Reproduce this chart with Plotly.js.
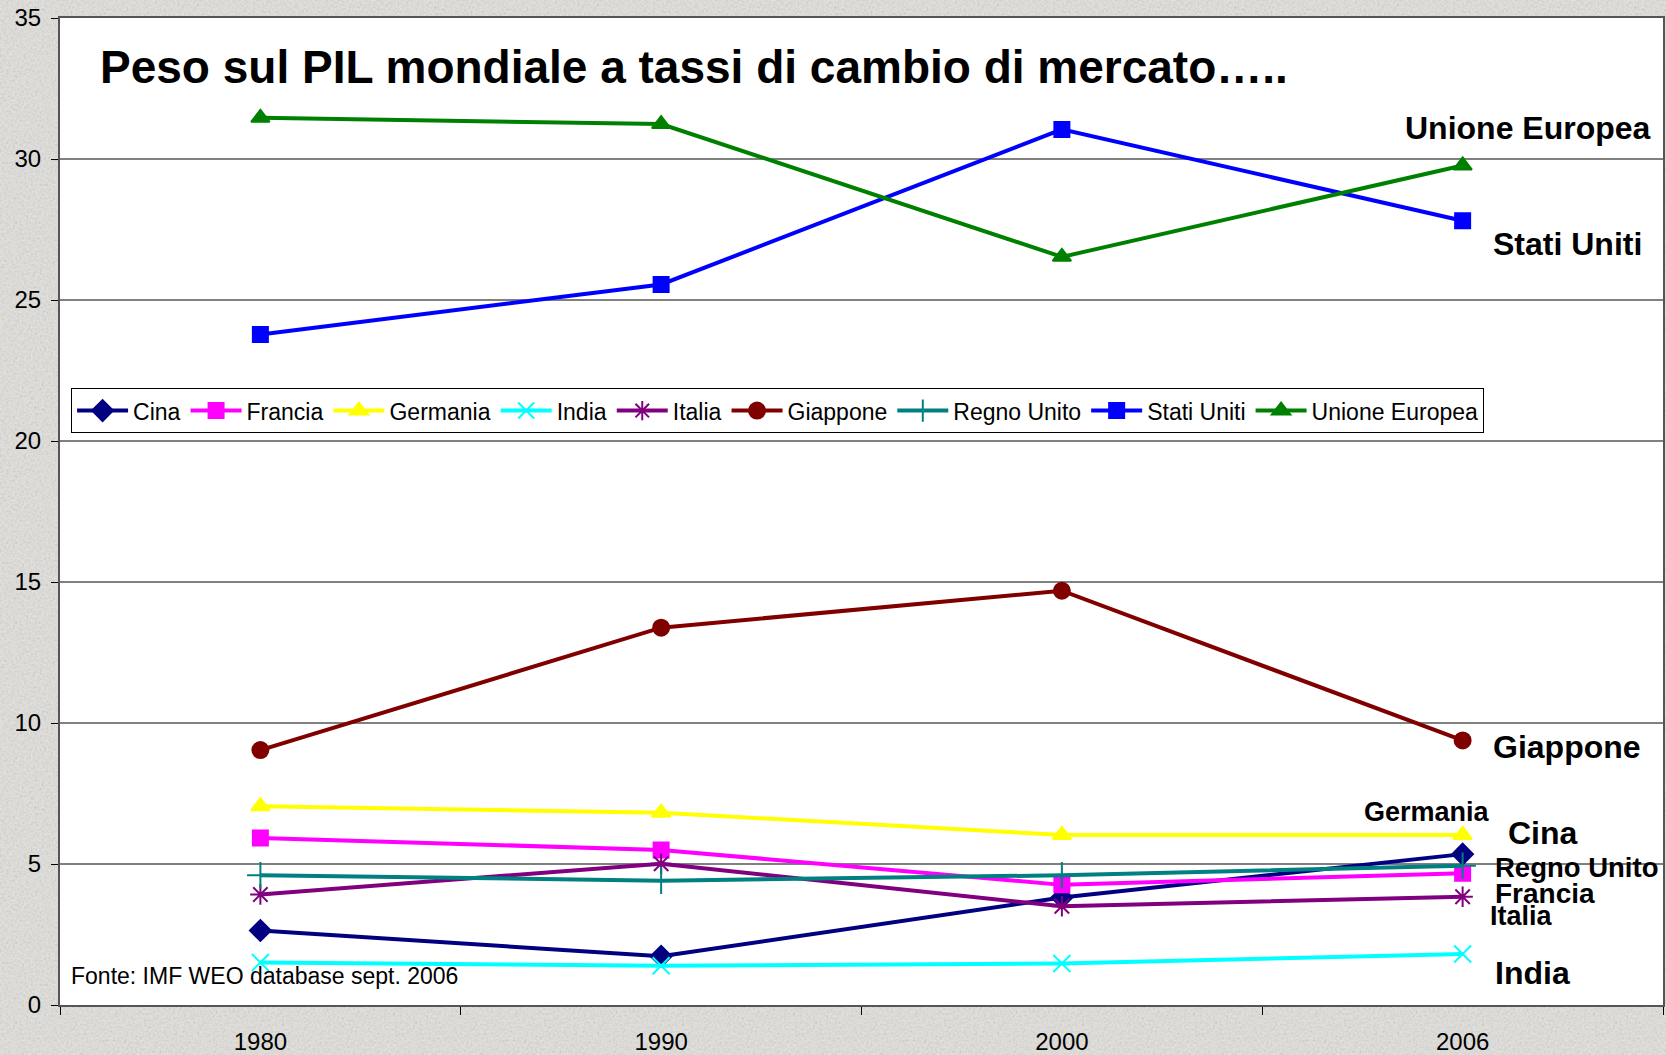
<!DOCTYPE html>
<html>
<head>
<meta charset="utf-8">
<script src="https://cdn.plot.ly/plotly-3.0.1.min.js"></script>
<style>
html, body { margin:0; padding:0; }
body {
  width:1666px; height:1055px; overflow:hidden;
  background-color:#dddbd7;
  background-image:url("data:image/svg+xml,%3Csvg xmlns='http://www.w3.org/2000/svg' width='400' height='400'%3E%3Cfilter id='n'%3E%3CfeTurbulence type='fractalNoise' baseFrequency='0.45' numOctaves='4' stitchTiles='stitch'/%3E%3CfeColorMatrix type='saturate' values='0'/%3E%3C/filter%3E%3Crect width='100%25' height='100%25' fill='%23e4e2de'/%3E%3Crect width='100%25' height='100%25' filter='url(%23n)' opacity='0.45'/%3E%3C/svg%3E");
}
#chart { width:1666px; height:1055px; }
</style>
</head>
<body>
<div id="chart"></div>
<script>
const years = ['1980', '1990', '2000', '2006'];

const cina        = [2.64, 1.73, 3.81, 5.35];
const francia     = [5.92, 5.50, 4.26, 4.67];
const germania    = [7.05, 6.82, 6.03, 6.03];
const india       = [1.51, 1.39, 1.47, 1.81];
const italia      = [3.92, 5.01, 3.50, 3.84];
const giappone    = [9.04, 13.38, 14.69, 9.38];
const regnoUnito  = [4.60, 4.41, 4.60, 4.94];
const statiUniti  = [23.78, 25.55, 31.05, 27.81];
const unioneEuropea = [31.46, 31.24, 26.53, 29.77];

const seriesNames = ['Cina', 'Francia', 'Germania', 'India', 'Italia', 'Giappone', 'Regno Unito', 'Stati Uniti', 'Unione Europea'];
const seriesValues = [cina, francia, germania, india, italia, giappone, regnoUnito, statiUniti, unioneEuropea];

const titleText = 'Peso sul PIL mondiale a tassi di cambio di mercato…..';
const sourceText = 'Fonte: IMF WEO database sept. 2006';

const styles = [
  {color:'#000080', symbol:'diamond', size:16},
  {color:'#FF00FF', symbol:'square', size:15},
  {color:'#FFFF00', symbol:'triangle-up', size:16},
  {color:'#00FFFF', symbol:'x-thin-open', size:17},
  {color:'#800080', symbol:'asterisk-open', size:17},
  {color:'#800000', symbol:'circle', size:16},
  {color:'#008080', symbol:'cross-thin-open', size:19},
  {color:'#0000FF', symbol:'square', size:15},
  {color:'#008000', symbol:'triangle-up', size:16}
];

const traces = seriesNames.map((name, i) => ({
  type:'scatter', mode:'lines+markers', name:name,
  x:years, y:seriesValues[i],
  line:{color:styles[i].color, width:4},
  marker:{color:styles[i].color, symbol:styles[i].symbol, size:styles[i].size,
          line:{color:styles[i].color, width:2}},
  cliponaxis:false
}));

const endLabels = [
  {text:'Unione Europea', x:0.838, y:31.1, size:32},
  {text:'Stati Uniti', x:0.893, y:27.0, size:32},
  {text:'Giappone', x:0.893, y:9.15, size:32},
  {text:'Germania', x:0.812, y:6.84, size:27},
  {text:'Cina', x:0.902, y:6.10, size:32},
  {text:'Regno Unito', x:0.894, y:4.86, size:27.5},
  {text:'Francia', x:0.894, y:3.97, size:28},
  {text:'Italia', x:0.891, y:3.16, size:27},
  {text:'India', x:0.894, y:1.13, size:32}
];

const annotations = endLabels.map(l => ({
  text:'<b>' + l.text + '</b>', xref:'paper', yref:'y', x:l.x, y:l.y,
  xanchor:'left', yanchor:'middle', showarrow:false,
  font:{family:'Liberation Sans, Arial, sans-serif', size:l.size, color:'#000'}
}));
annotations.push({
  text:'<b>' + titleText + '</b>', xref:'paper', yref:'paper', x:0.024, y:0.950,
  xanchor:'left', yanchor:'middle', showarrow:false,
  font:{family:'Liberation Sans, Arial, sans-serif', size:46, color:'#000'}
});
annotations.push({
  text:sourceText, xref:'paper', yref:'y', x:0.0055, y:1.03,
  xanchor:'left', yanchor:'middle', showarrow:false,
  font:{family:'Liberation Sans, Arial, sans-serif', size:23, color:'#000'}
});

const layout = {
  width:1666, height:1055,
  margin:{l:60, r:3, t:18, b:50},
  paper_bgcolor:'rgba(0,0,0,0)',
  plot_bgcolor:'#ffffff',
  font:{family:'Liberation Sans, Arial, sans-serif', size:23, color:'#000'},
  showlegend:true,
  legend:{
    orientation:'h', x:0.0069, y:0.625, xanchor:'left', yanchor:'top',
    bgcolor:'#ffffff', bordercolor:'#000000', borderwidth:1,
    font:{size:23}, itemwidth:51, tracegroupgap:0
  },
  xaxis:{
    type:'category', categoryorder:'array', categoryarray:years,
    range:[-0.5, 3.5], tickson:'boundaries', ticks:'outside', ticklen:8,
    tickcolor:'#000', showgrid:false, showline:true, linecolor:'#555', linewidth:2,
    mirror:true, ticklabelstandoff:14, tickfont:{size:24}, zeroline:false
  },
  yaxis:{
    range:[0, 35], dtick:5, tick0:0, ticks:'outside', ticklen:7, tickcolor:'#000',
    showgrid:true, gridcolor:'#808080', gridwidth:1.5,
    showline:true, linecolor:'#555', linewidth:2, mirror:true, zeroline:false,
    tickfont:{size:24}, ticklabelstandoff:5
  },
  annotations:annotations
};

Plotly.newPlot('chart', traces, layout, {displayModeBar:false, staticPlot:true});
</script>
</body>
</html>
